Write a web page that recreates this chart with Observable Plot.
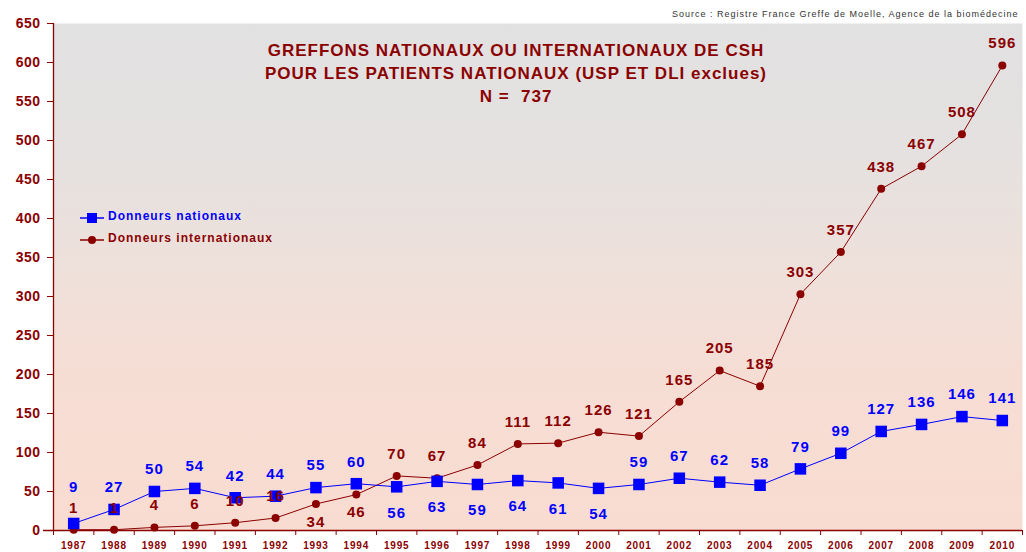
<!DOCTYPE html>
<html>
<head>
<meta charset="utf-8">
<script src="https://cdn.jsdelivr.net/npm/d3@7"></script>
<script src="https://cdn.jsdelivr.net/npm/@observablehq/plot@0.6"></script>
<style>
  html, body { margin: 0; padding: 0; background: #fff; }
  #chart { width: 1026px; height: 552px; }
  svg { font-family: "Liberation Sans", Arial, sans-serif; }
</style>
</head>
<body>
<div id="chart"></div>
<script>
const years = [1987,1988,1989,1990,1991,1992,1993,1994,1995,1996,1997,1998,1999,2000,2001,2002,2003,2004,2005,2006,2007,2008,2009,2010];
const nationaux = [9,27,50,54,42,44,55,60,56,63,59,64,61,54,59,67,62,58,79,99,127,136,146,141];
const internationaux = [1,1,4,6,10,16,34,46,70,67,84,111,112,126,121,165,205,185,303,357,438,467,508,596];
const natLabelBelowYears = [1995,1996,1997,1998,1999,2000];
const intlLabelBelowYears = [1993,1994];
const yTicks = [0,50,100,150,200,250,300,350,400,450,500,550,600,650];
const seriesNames = ["Donneurs nationaux", "Donneurs internationaux"];
const titleLines = ["GREFFONS NATIONAUX OU INTERNATIONAUX DE CSH", "POUR LES PATIENTS NATIONAUX (USP ET DLI exclues)", "N =  737"];
const sourceText = "Source : Registre France Greffe de Moelle, Agence de la biomédecine";

const DARK = "#8b0000";
const BLUE = "#0000ff";

const nat = years.map((y, i) => ({year: y, value: nationaux[i], below: natLabelBelowYears.includes(y)}));
const intl = years.map((y, i) => ({year: y, value: internationaux[i], below: intlLabelBelowYears.includes(y)}));
const bounds = [years[0] - 0.5, ...years.map(y => y + 0.5)];
const labelStyle = {fontSize: 15, fontWeight: "bold"};

const chart = Plot.plot({
  width: 1026,
  height: 552,
  marginLeft: 53,
  marginRight: 4,
  marginTop: 23,
  marginBottom: 22,
  style: {fontFamily: "Liberation Sans, Arial, sans-serif", overflow: "visible"},
  x: {type: "linear", domain: [years[0] - 0.5, years[years.length - 1] + 0.5]},
  y: {domain: [0, 650]},
  marks: [
    Plot.frame({fill: "url(#bgGrad)", stroke: "none"}),
    // axes
    Plot.axisY({ticks: yTicks, tickSize: 6, tickPadding: 7, fontSize: 14, fontWeight: "bold", color: DARK, label: null, stroke: DARK}),
    Plot.axisX({ticks: years, tickSize: 0, tickPadding: 11, fontSize: 10, fontWeight: "bold", color: DARK, label: null, tickFormat: d => String(d)}),
    Plot.axisX({ticks: bounds, tickSize: 5, tickFormat: () => "", label: null, stroke: DARK}),
    Plot.ruleX([years[0] - 0.5], {stroke: DARK, strokeWidth: 1.3}),
    Plot.ruleY([0], {stroke: DARK, strokeWidth: 1.3, insetLeft: -10}),
    // title + source
    Plot.text([titleLines.join("\n")], {frameAnchor: "top", dx: -22, dy: 16, lineHeight: 1.36, fontSize: 17, fontWeight: "bold", fill: DARK, ariaLabel: "title"}),
    Plot.text([sourceText], {frameAnchor: "top-right", dx: -4, dy: -9, lineAnchor: "middle", fontSize: 9, fill: "#333", ariaLabel: "source"}),
    // series
    Plot.line(intl, {x: "year", y: "value", stroke: DARK, strokeWidth: 1}),
    Plot.dot(intl, {x: "year", y: "value", fill: DARK, r: 4, symbol: "circle"}),
    Plot.line(nat, {x: "year", y: "value", stroke: BLUE, strokeWidth: 1}),
    Plot.dot(nat, {x: "year", y: "value", fill: BLUE, r: 6.5, symbol: "square"}),
    // value labels
    Plot.text(intl.filter(d => !d.below), {x: "year", y: "value", text: d => String(d.value), dy: -22, fill: DARK, ...labelStyle}),
    Plot.text(intl.filter(d => d.below), {x: "year", y: "value", text: d => String(d.value), dy: 18, fill: DARK, ...labelStyle}),
    Plot.text(nat.filter(d => !d.below), {x: "year", y: d => Math.max(d.value, 27), text: d => String(d.value), dy: -22, fill: BLUE, ...labelStyle}),
    Plot.text(nat.filter(d => d.below), {x: "year", y: "value", text: d => String(d.value), dy: 26, fill: BLUE, ...labelStyle})
  ]
});

const svg = d3.select(chart);

// letter spacing (not a Plot option): applied after rendering
svg.selectAll('g[aria-label="text"]').attr("letter-spacing", "1px");
svg.selectAll('g[aria-label="title"]').attr("letter-spacing", "1.25px");
svg.selectAll('g[aria-label="source"]').attr("letter-spacing", "1.1px");
svg.selectAll('g[aria-label="x-axis tick label"]').attr("letter-spacing", "0.8px");
svg.selectAll('g[aria-label="y-axis tick label"]').attr("letter-spacing", "0.5px");

// gradient background
const defs = svg.insert("defs", ":first-child");
const grad = defs.append("linearGradient").attr("id", "bgGrad").attr("x1", 0).attr("y1", 0).attr("x2", 0).attr("y2", 1);
[["0%", "#e2e1e1"], ["25%", "#e4e1e0"], ["50%", "#efe0da"], ["70%", "#f6ddd4"], ["100%", "#f9dcd1"]]
  .forEach(([o, c]) => grad.append("stop").attr("offset", o).attr("stop-color", c));

// legend
const lg = svg.append("g")
  .attr("font-family", "Liberation Sans, Arial, sans-serif")
  .attr("font-weight", "bold").attr("font-size", 12)
  .attr("letter-spacing", "1px").attr("text-anchor", "start");
const legendItems = [
  {name: seriesNames[0], color: BLUE, y: 218, shape: "square"},
  {name: seriesNames[1], color: DARK, y: 240, shape: "circle"}
];
legendItems.forEach(it => {
  lg.append("line").attr("x1", 80).attr("x2", 104).attr("y1", it.y).attr("y2", it.y).attr("stroke", it.color).attr("stroke-width", 1.5);
  if (it.shape === "square") lg.append("rect").attr("x", 87).attr("y", it.y - 5).attr("width", 10).attr("height", 10).attr("fill", it.color);
  else lg.append("circle").attr("cx", 92).attr("cy", it.y).attr("r", 4).attr("fill", it.color);
  lg.append("text").attr("x", 108).attr("y", it.y).attr("dy", "0.2em").attr("fill", it.color).text(it.name);
});

document.getElementById("chart").appendChild(chart);
</script>
</body>
</html>
